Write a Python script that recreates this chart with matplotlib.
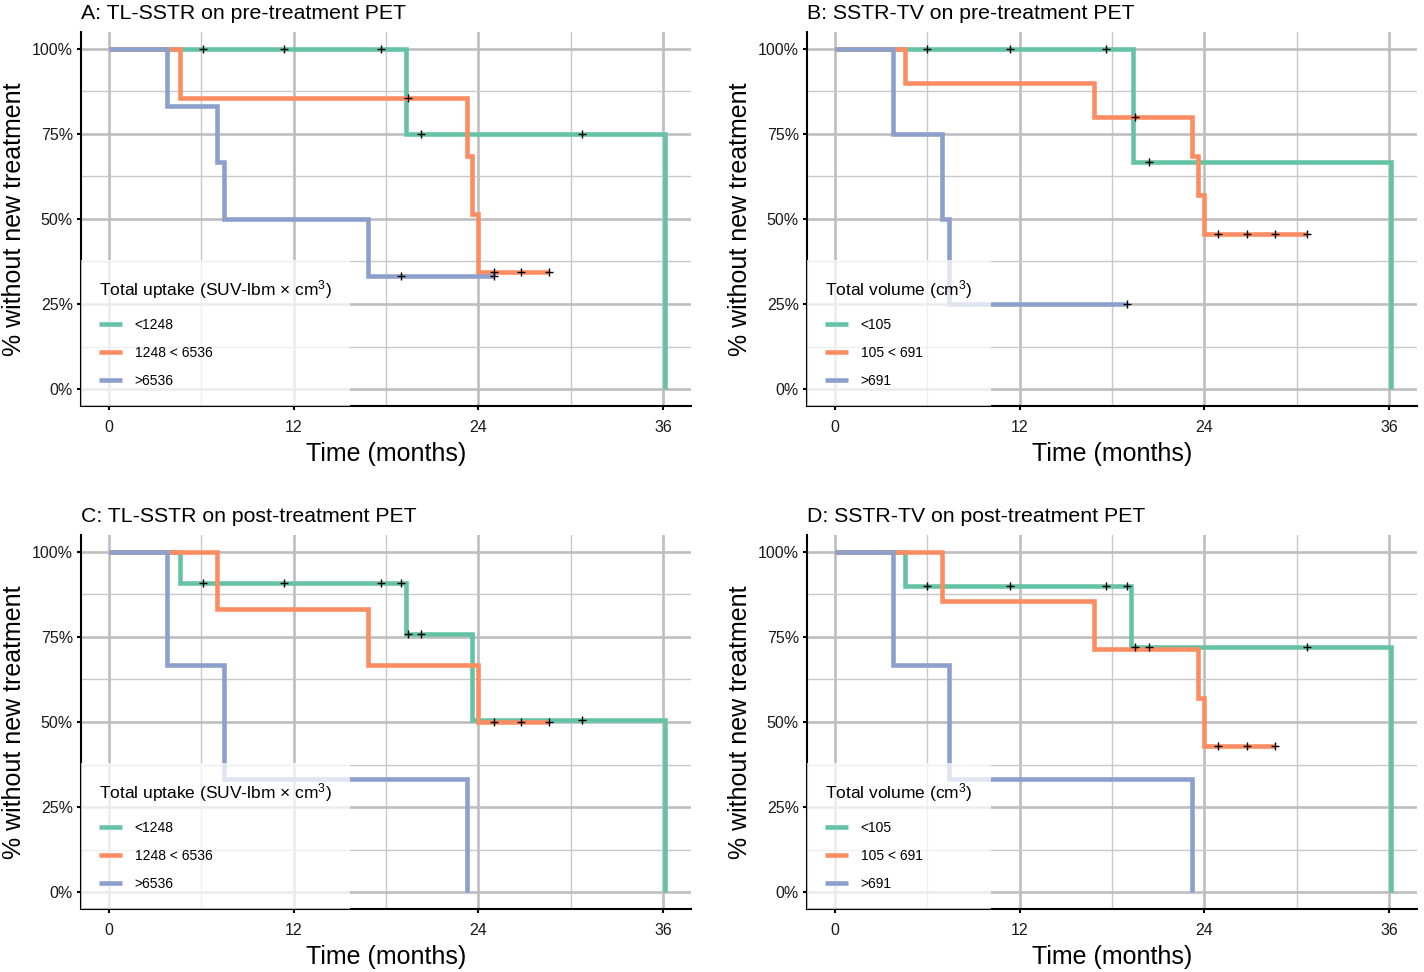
import numpy as np
import matplotlib
matplotlib.use("Agg")
import matplotlib.pyplot as plt

plt.rcParams["font.family"] = ["Liberation Sans", "DejaVu Sans"]
plt.rcParams["mathtext.fontset"] = "custom"
plt.rcParams["mathtext.rm"] = "Liberation Sans"
plt.rcParams["mathtext.it"] = "Liberation Sans:italic"

# colours (Set2)
GREEN = "#66c2a5"
ORANGE = "#fc8d62"
BLUE = "#8da0cb"

# ---- data: step times (months), survival (%), censor times ----
# A: TL-SSTR on pre-treatment PET
A_GREEN_T = [0, 19.3, 36.1]
A_GREEN_S = [100, 75, 0]
A_GREEN_C = [6.1, 11.4, 17.7, 20.3, 30.7]
A_ORANGE_T = [0, 4.64, 23.25, 23.6, 23.97, 28.6]
A_ORANGE_S = [100, 85.7, 68.6, 51.4, 34.3, 34.3]
A_ORANGE_C = [19.4, 25.0, 26.8, 28.6]
A_BLUE_T = [0, 3.79, 7.0, 7.45, 16.85, 25.0]
A_BLUE_S = [100, 83.3, 66.7, 50, 33.3, 33.3]
A_BLUE_C = [19.0, 25.0]

# B: SSTR-TV on pre-treatment PET
B_GREEN_T = [0, 19.35, 36.15]
B_GREEN_S = [100, 66.7, 0]
B_GREEN_C = [6.0, 11.4, 17.6, 20.4]
B_ORANGE_T = [0, 4.56, 16.8, 23.2, 23.6, 23.96, 30.7]
B_ORANGE_S = [100, 90, 80, 68.6, 57.1, 45.7, 45.7]
B_ORANGE_C = [19.5, 24.9, 26.8, 28.6, 30.7]
B_BLUE_T = [0, 3.74, 6.96, 7.43, 19.0]
B_BLUE_S = [100, 75, 50, 25, 25]
B_BLUE_C = [19.0]

# C: TL-SSTR on post-treatment PET
C_GREEN_T = [0, 4.64, 19.3, 23.6, 36.1]
C_GREEN_S = [100, 90.9, 75.8, 50.5, 0]
C_GREEN_C = [6.1, 11.4, 17.7, 19.0, 19.4, 20.3, 30.7]
C_ORANGE_T = [0, 7.0, 16.85, 23.97, 28.6]
C_ORANGE_S = [100, 83.3, 66.7, 50, 50]
C_ORANGE_C = [25.0, 26.8, 28.6]
C_BLUE_T = [0, 3.79, 7.45, 23.25]
C_BLUE_S = [100, 66.7, 33.3, 0]
C_BLUE_C = []

# D: SSTR-TV on post-treatment PET
D_GREEN_T = [0, 4.56, 19.26, 36.15]
D_GREEN_S = [100, 90, 72, 0]
D_GREEN_C = [6.0, 11.4, 17.6, 19.0, 19.5, 20.4, 30.7]
D_ORANGE_T = [0, 6.96, 16.8, 23.6, 23.96, 28.6]
D_ORANGE_S = [100, 85.7, 71.4, 57.1, 42.9, 42.9]
D_ORANGE_C = [24.9, 26.8, 28.6]
D_BLUE_T = [0, 3.74, 7.43, 23.2]
D_BLUE_S = [100, 66.7, 33.3, 0]
D_BLUE_C = []

UPTAKE_LABELS = ["<1248", "1248 < 6536", ">6536"]
VOLUME_LABELS = ["<105", "105 < 691", ">691"]
UPTAKE_TITLE = "Total uptake (SUV-lbm \u00d7 cm$^{3}$)"
VOLUME_TITLE = "Total volume (cm$^{3}$)"

X_TICKS = [0, 12, 24, 36]
X_MINOR = [6, 18, 30]
Y_TICKS = [0, 25, 50, 75, 100]
Y_MINOR = [12.5, 37.5, 62.5, 87.5]
Y_TICKLABELS = ["0%", "25%", "50%", "75%", "100%"]

PANELS = [
    ("A: TL-SSTR on pre-treatment PET", UPTAKE_TITLE, UPTAKE_LABELS,
     [(A_GREEN_T, A_GREEN_S, A_GREEN_C), (A_ORANGE_T, A_ORANGE_S, A_ORANGE_C),
      (A_BLUE_T, A_BLUE_S, A_BLUE_C)]),
    ("B: SSTR-TV on pre-treatment PET", VOLUME_TITLE, VOLUME_LABELS,
     [(B_GREEN_T, B_GREEN_S, B_GREEN_C), (B_ORANGE_T, B_ORANGE_S, B_ORANGE_C),
      (B_BLUE_T, B_BLUE_S, B_BLUE_C)]),
    ("C: TL-SSTR on post-treatment PET", UPTAKE_TITLE, UPTAKE_LABELS,
     [(C_GREEN_T, C_GREEN_S, C_GREEN_C), (C_ORANGE_T, C_ORANGE_S, C_ORANGE_C),
      (C_BLUE_T, C_BLUE_S, C_BLUE_C)]),
    ("D: SSTR-TV on post-treatment PET", VOLUME_TITLE, VOLUME_LABELS,
     [(D_GREEN_T, D_GREEN_S, D_GREEN_C), (D_ORANGE_T, D_ORANGE_S, D_ORANGE_C),
      (D_BLUE_T, D_BLUE_S, D_BLUE_C)]),
]

COLORS = [GREEN, ORANGE, BLUE]

# axes positions in figure fractions (left, bottom, width, height)
POSITIONS = [
    (0.0571, 0.5823, 0.4280, 0.3848),
    (0.5669, 0.5823, 0.4280, 0.3848),
    (0.0571, 0.0648, 0.4280, 0.3848),
    (0.5669, 0.0648, 0.4280, 0.3848),
]


def censor_values(times, surv, ctimes):
    t = np.asarray(times, dtype=float)
    s = np.asarray(surv, dtype=float)
    idx = np.searchsorted(t, np.asarray(ctimes, dtype=float), side="right") - 1
    return s[idx]


def draw_panel(ax, title, leg_title, labels, curves):
    handles = []
    for (t, s, c), color, lab in zip(curves, COLORS, labels):
        ln, = ax.step(t, s, where="post", color=color, lw=3.3,
                      solid_capstyle="butt", solid_joinstyle="miter",
                      label=lab, zorder=2)
        handles.append(ln)
    for (t, s, c) in curves:
        if len(c):
            ax.plot(c, censor_values(t, s, c), "+", color="black",
                    ms=6, mew=1.0, zorder=3)

    ax.set_xlim(-1.8, 37.8)
    ax.set_ylim(-5, 105)
    ax.set_xticks(X_TICKS)
    ax.set_xticks(X_MINOR, minor=True)
    ax.set_yticks(Y_TICKS)
    ax.set_yticks(Y_MINOR, minor=True)
    ax.set_yticklabels(Y_TICKLABELS)
    ax.grid(True, which="major", color="#bebebe", lw=1.9)
    ax.grid(True, which="minor", color="#c8c8c8", lw=1.0)
    ax.set_axisbelow(True)
    for side in ("top", "right"):
        ax.spines[side].set_visible(False)
    for side in ("left", "bottom"):
        ax.spines[side].set_linewidth(1.5)
        ax.spines[side].set_color("black")
    ax.tick_params(which="major", length=3, width=1.5, color="black",
                   labelsize=11.5, labelcolor="#1a1a1a")
    ax.tick_params(axis="x", which="major", pad=7)
    ax.tick_params(axis="y", which="major", pad=3)
    ax.tick_params(which="minor", length=0)

    ax.set_xlabel("Time (months)", fontsize=18, labelpad=5, color="black")
    ax.set_ylabel("% without new treatment", fontsize=18, labelpad=4, color="black")
    ax.set_title(title, loc="left", fontsize=15.3, pad=9)

    leg = ax.legend(handles=handles, title=leg_title, loc="lower left",
                    bbox_to_anchor=(0, 0), borderaxespad=0, fontsize=10,
                    title_fontsize=12.5, alignment="left", frameon=True,
                    fancybox=False, facecolor="white", edgecolor="none",
                    framealpha=0.72, borderpad=1.3, handlelength=1.6,
                    handletextpad=0.95, labelspacing=1.0)
    # a bit more room between legend title and first key, as in the original
    leg._legend_box.sep = 12.6
    leg.set_zorder(5)
    for lh in leg.get_lines():
        lh.set_linewidth(3.3)


fig = plt.figure(figsize=(14.24, 9.72), dpi=100)
for pos, (title, leg_title, labels, curves) in zip(POSITIONS, PANELS):
    ax = fig.add_axes(pos)
    draw_panel(ax, title, leg_title, labels, curves)

fig.savefig("out.png", dpi=100, facecolor="white")
